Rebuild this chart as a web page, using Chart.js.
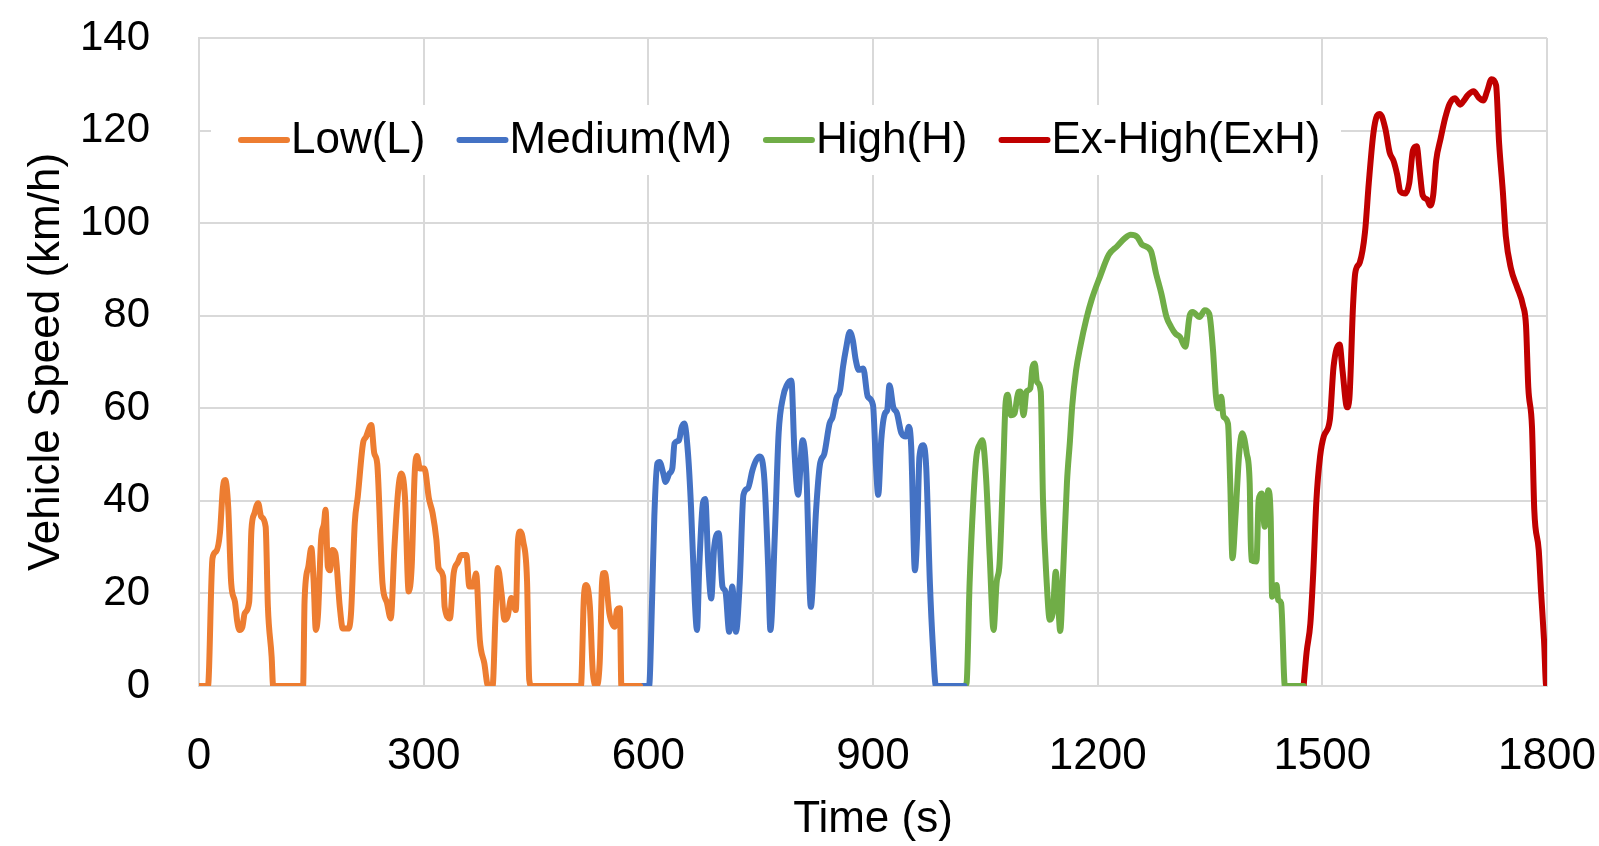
<!DOCTYPE html>
<html><head><meta charset="utf-8">
<script src="https://cdn.jsdelivr.net/npm/chart.js@4.4.1/dist/chart.umd.min.js"></script>
<style>html,body{margin:0;padding:0;background:#fff;}#wrap{width:1599px;height:846px;position:relative;}</style>
</head><body><div id="wrap"><canvas id="c"></canvas></div>
<script>
const seriesNames = ['Low(L)', 'Medium(M)', 'High(H)', 'Ex-High(ExH)'];
const seriesColors = ['#ED7D31', '#4472C4', '#70AD47', '#C00000'];

const lowTime = [0,12,18,23,28,32,35,39,43,48,51,54,58,61,67,70,74,79,83,89,92,97,99,139,141,146,150,153,156,159,163,167,169,172,175,178,182,188,192,199,203,208,212,219,223,230,234,238,245,251,256,261,266,270,275,280,284,288,291,295,301,307,312,317,320,326,328,335,340,346,350,357,361,366,370,375,381,386,392,396,399,404,408,412,417,423,426,429,433,438,441,444,510,514,517,522,526,531,535,539,542,548,555,558,562,564,589];
const lowSpeed = [0,0,27.6,29.1,33.1,43,44.5,38.7,22.2,18.2,14,12.1,12.8,15.7,18.2,33.7,37.3,39.5,36.6,34.4,17.1,6.3,0,0,18.6,25.8,29.8,22.9,12.1,15.7,31.6,35.2,38.1,25.8,25,29.4,28.7,17.1,12.4,12.4,15.7,35.2,40.9,52.4,53.8,56.4,50.3,48,22.2,18,14.6,30.1,42.3,45.9,40.9,20.4,25.8,45.9,49.7,47,47,40.5,37.3,31.6,25.5,23.7,17.1,14.6,24.3,26.8,28.3,28.3,21.5,21.5,24.3,9.9,4.9,0,0,15.7,25.5,20,14.3,15,19,16.4,31.6,33.4,31.2,22.9,1.3,0,0,19.3,21.8,17.1,2.7,0,4.9,24.3,24.4,15.7,12.8,16.4,16.8,0,0];

const mediumTime = [589,601,605,608,612,615,620,623,628,632,635,641,644,648,653,657,662,665,668,673,676,680,684,688,694,699,703,708,712,717,722,727,733,739,744,749,755,760,763,769,774,780,785,791,795,800,806,811,817,824,829,835,842,846,851,856,860,864,869,873,877,881,887,893,900,904,907,911,916,919,922,927,932,938,944,948,951,956,959,962,967,971,976,980,984,1022];
const mediumSpeed = [0,0,18.6,36.6,48.1,48.4,45.9,44.1,45.9,47,52.4,53.1,55.6,56.7,50.2,38.7,18.6,12.1,25.8,39.6,40.4,26.5,18.9,30.1,33,21.5,20.4,11.7,21.5,11.7,22.2,41.3,42.7,46.6,48.8,49.6,44.5,25.8,12.1,33,54.6,62.5,65,66,51,41.3,53.1,45.9,17.1,38,47.7,50.2,56.7,58.1,62.1,63.9,69,72.9,76.5,74.7,70.4,68.3,68.6,62.5,60.7,47.4,41.3,53.1,58.9,59.6,65,60.3,58.9,54.6,53.9,56,51.7,25,33,49.5,52,47.4,22.2,8.5,0,0];

const highTime = [1022,1025,1029,1034,1038,1043,1046,1051,1056,1061,1065,1069,1074,1077,1080,1084,1089,1094,1097,1101,1105,1110,1113,1116,1119,1124,1127,1132,1136,1140,1144,1147,1150,1154,1159,1163,1166,1171,1177,1185,1192,1203,1215,1226,1236,1244,1253,1259,1271,1278,1285,1292,1298,1304,1310,1317,1323,1327,1336,1343,1349,1354,1358,1361,1365,1368,1374,1377,1380,1384,1389,1393,1399,1403,1405,1412,1415,1419,1423,1428,1431,1433,1439,1441,1445,1450,1475];
const highSpeed = [0,0.7,22.2,40.2,49.5,52.4,53.1,45,27.5,12.1,22.2,26.5,47.4,61,62.9,58.5,58.9,63.5,63.6,58.5,63.6,64.3,68.9,69.7,65.7,63.6,40.2,22.2,14.3,15.7,24.7,18.6,11.9,25,44,53,60.5,68,73.5,79.4,83.5,88.4,93.2,95,96.7,97.5,97,95.4,94,89.1,84.8,79.7,77.6,76.1,75.4,73.3,80.1,80.8,79.7,81.2,80.4,72.6,62.5,60,62.5,58.2,56.7,43.8,27.6,36.6,50.3,54.6,50.3,43.8,27.2,26.9,40.2,41.6,34.4,42.3,36.6,19.3,21.8,18.6,17.9,0,0];

const exHighTime = [1475,1479,1484,1488,1492,1497,1502,1510,1515,1523,1527,1533,1536,1541,1544,1550,1557,1562,1568,1573,1577,1584,1590,1595,1600,1604,1611,1616,1621,1626,1630,1634,1640,1644,1648,1652,1658,1664,1670,1677,1684,1690,1694,1702,1709,1715,1720,1726,1732,1736,1741,1745,1752,1760,1768,1772,1775,1780,1783,1789,1792,1796,1799,1800];
const exHighSpeed = [0,7.3,13.5,24.9,39.9,49.6,54,57.5,69,73.8,68.1,60.2,61.9,82.2,89.3,91.5,98.1,108.6,119.2,123.2,123.6,120.5,115.2,113.5,110.4,106.9,106.4,108.6,115.7,116.6,111.3,106,105.1,103.8,106,113.5,118.3,122.7,125.8,127,125.6,126.7,127.6,128.5,127.1,126.5,128.5,131.1,129.8,117.4,106.9,97.2,90.1,86.2,82.2,77.8,64.6,55.8,38.1,29.3,20.5,10,0,0];

const xTickValues = [0, 300, 600, 900, 1200, 1500, 1800];
const yTickValues = [0, 20, 40, 60, 80, 100, 120, 140];
const xTitle = 'Time (s)';
const yTitle = 'Vehicle Speed (km/h)';

const times = [lowTime, mediumTime, highTime, exHighTime];
const speeds = [lowSpeed, mediumSpeed, highSpeed, exHighSpeed];

const datasets = seriesNames.map((name, k) => ({
  label: name,
  data: times[k].map((t, i) => ({ x: t, y: speeds[k][i] })),
  borderColor: seriesColors[k],
  backgroundColor: seriesColors[k],
  borderWidth: 6,
  pointRadius: 0,
  fill: false,
  cubicInterpolationMode: 'monotone',
  borderJoinStyle: 'round',
  borderCapStyle: 'round'
}));

const FONT = '"Liberation Sans", Arial, sans-serif';

const insideLegend = {
  id: 'insideLegend',
  afterDraw(chart) {
    const ctx = chart.ctx;
    const area = chart.chartArea;
    ctx.save();
    ctx.fillStyle = '#ffffff';
    ctx.fillRect(area.left + 12, 105, 1130, 70);
    ctx.font = '44px ' + FONT;
    ctx.textBaseline = 'middle';
    ctx.textAlign = 'left';
    let x = area.left + 42;
    const y = 140;
    chart.data.datasets.forEach(ds => {
      ctx.strokeStyle = ds.borderColor;
      ctx.lineWidth = 6;
      ctx.lineCap = 'round';
      ctx.beginPath();
      ctx.moveTo(x, y);
      ctx.lineTo(x + 46, y);
      ctx.stroke();
      ctx.fillStyle = '#000';
      ctx.fillText(ds.label, x + 50, y + 1);
      x += 50 + ctx.measureText(ds.label).width + 34;
    });
    ctx.restore();
  }
};

function zeroPad(s) { s.paddingTop = 0; s.paddingBottom = 0; s.paddingLeft = 0; s.paddingRight = 0; }

new Chart(document.getElementById('c'), {
  type: 'line',
  data: { datasets },
  plugins: [insideLegend],
  options: {
    responsive: true,
    maintainAspectRatio: false,
    animation: false,
    devicePixelRatio: 1,
    layout: { padding: { left: 0, top: 38, right: 52, bottom: 0 } },
    plugins: { legend: { display: false }, tooltip: { enabled: false } },
    scales: {
      x: {
        type: 'linear',
        min: 0, max: 1800,
        afterBuildTicks: s => { s.ticks = xTickValues.map(v => ({ value: v })); },
        afterFit: s => { s.height = 160; zeroPad(s); },
        ticks: { color: '#000', font: { size: 44, family: FONT }, padding: 44, maxRotation: 0, autoSkip: false, callback: v => String(v) },
        grid: { color: '#d9d9d9', lineWidth: 2, drawTicks: false },
        border: { color: '#d9d9d9', width: 2 },
        title: { display: true, text: xTitle, color: '#000', font: { size: 44, family: FONT }, padding: { top: 0, bottom: 0 } }
      },
      y: {
        type: 'linear',
        min: 0, max: 140,
        afterBuildTicks: s => { s.ticks = yTickValues.map(v => ({ value: v })); },
        afterFit: s => { s.width = 199; zeroPad(s); },
        ticks: { color: '#000', font: { size: 42, family: FONT }, padding: 49, autoSkip: false, callback: v => String(v) },
        grid: { color: '#d9d9d9', lineWidth: 2, drawTicks: false },
        border: { color: '#d9d9d9', width: 2 },
        title: { display: true, text: yTitle, color: '#000', font: { size: 44, family: FONT }, padding: { top: 20, bottom: 0 } }
      }
    }
  }
});
</script>
</body></html>
